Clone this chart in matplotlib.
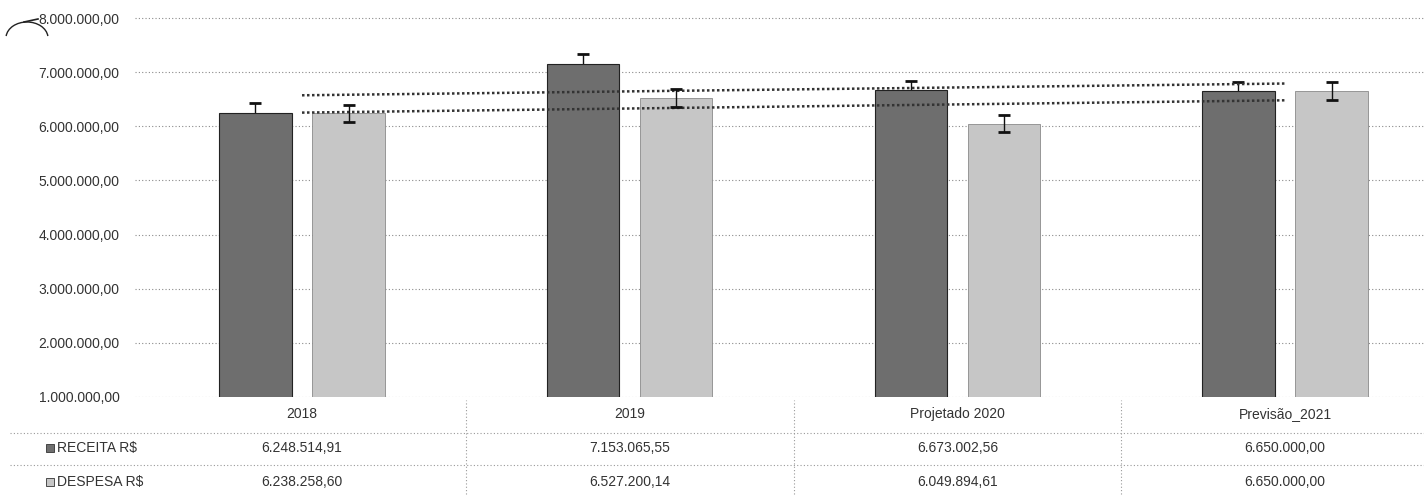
import numpy as np
import matplotlib.pyplot as plt
from matplotlib.patches import Rectangle, Arc
from matplotlib.ticker import FuncFormatter

plt.rcParams['font.family'] = ['Liberation Sans Narrow', 'Liberation Sans', 'DejaVu Sans']

# DATA
categories = ['2018', '2019', 'Projetado 2020', 'Previsão_2021']
receita = [6248514.91, 7153065.55, 6673002.56, 6650000.00]
despesa = [6238258.60, 6527200.14, 6049894.61, 6650000.00]
# error bar half-heights
receita_err = [180000, 190000, 170000, 170000]
despesa_err = [160000, 170000, 160000, 170000]
series_names = ['RECEITA R$', 'DESPESA R$']


def brl(v, pos=None):
    s = '{:,.2f}'.format(v)
    return s.replace(',', 'X').replace('.', ',').replace('X', '.')


W, H = 1424, 495
fig = plt.figure(figsize=(W / 100, H / 100), dpi=100)
fig.patch.set_facecolor('white')

# plot area in pixels: left 135, right 1424, top 14, bottom 397
L, T, B = 135, 14, 397
ax = fig.add_axes([L / W, (H - B) / H, (W - L) / W, (B - T) / H])
x = np.arange(len(categories))
bw = 0.22
off = 0.142
dark = '#6e6e6e'
light = '#c6c6c6'

# centres of the groups sit at pixels 302 ... 1285
step = (1285 - 302) / 3
x0 = -(302 - L) / step
x1 = 3 + (W - 1285) / step

ax.bar(x - off, receita, bw, color=dark, edgecolor='#222222', linewidth=0.8, zorder=3)
ax.bar(x + off, despesa, bw, color=light, edgecolor='#8a8a8a', linewidth=0.6, zorder=3)
# receita whiskers sit behind the dark bar, so only the upper half shows
ax.errorbar(x - off, receita, yerr=receita_err, fmt='none', ecolor='#111111',
            elinewidth=1, capsize=4, capthick=2, zorder=2)
ax.errorbar(x + off, despesa, yerr=despesa_err, fmt='none', ecolor='#111111',
            elinewidth=1, capsize=4, capthick=2, zorder=5)

# linear trendlines
for vals in (receita, despesa):
    k, b = np.polyfit(x, vals, 1)
    ax.plot(x, k * x + b, color='#333333', linestyle=(0, (1, 1)), linewidth=1.8, zorder=4)

ax.set_xlim(x0, x1)
ax.set_ylim(1000000, 1000000 + 7000000 * (B - T) / (B - 18))
ax.set_yticks(np.arange(1000000, 8000001, 1000000))
ax.yaxis.set_major_formatter(FuncFormatter(brl))
ax.grid(axis='y', color='#8a8a8a', linestyle=(0, (1, 2)), linewidth=0.8, zorder=0)
ax.set_xticks(x)
ax.set_xticklabels(categories)
ax.tick_params(axis='both', length=0, labelsize=10, colors='#333333')
ax.tick_params(axis='x', pad=7)
ax.tick_params(axis='y', pad=11)
for s in ax.spines.values():
    s.set_visible(False)

# data table below the chart
tr = ax.get_xaxis_transform()
row_px = [448, 482]
for vals, py in zip((receita, despesa), row_px):
    for xi, v in zip(x, vals):
        ax.text(xi, -(py - B) / (B - T), brl(v), transform=tr, ha='center', va='center',
                fontsize=10, color='#333333', clip_on=False)

line_kw = dict(color='#999999', linestyle=(0, (1, 2)), linewidth=0.8)
for py in (433, 465):
    fig.add_artist(plt.Line2D([10 / W, 1], [(H - py) / H] * 2, **line_kw))
for xb in (0.5, 1.5, 2.5):
    px = L + (xb - x0) * step
    fig.add_artist(plt.Line2D([px / W] * 2, [(H - 494) / H, (H - 400) / H], **line_kw))

# series keys and row names
for name, col, py in zip(series_names, (dark, light), row_px):
    fig.add_artist(Rectangle((46 / W, (H - py - 4) / H), 8 / W, 8 / H,
                             facecolor=col, edgecolor='#333333', linewidth=0.6))
    fig.text(57 / W, (H - py) / H, name, ha='left', va='center', fontsize=10, color='#333333')

# pen stroke near the top-left corner of the scan
fig.add_artist(Arc((27 / W, (H - 38) / H), 42 / W, 32 / H, theta1=15, theta2=165,
                   color='#222222', linewidth=1.0))
fig.add_artist(plt.Line2D([24 / W, 38 / W], [(H - 22) / H, (H - 19) / H], color='#222222', linewidth=1.2))

fig.savefig('out.png', dpi=100)
